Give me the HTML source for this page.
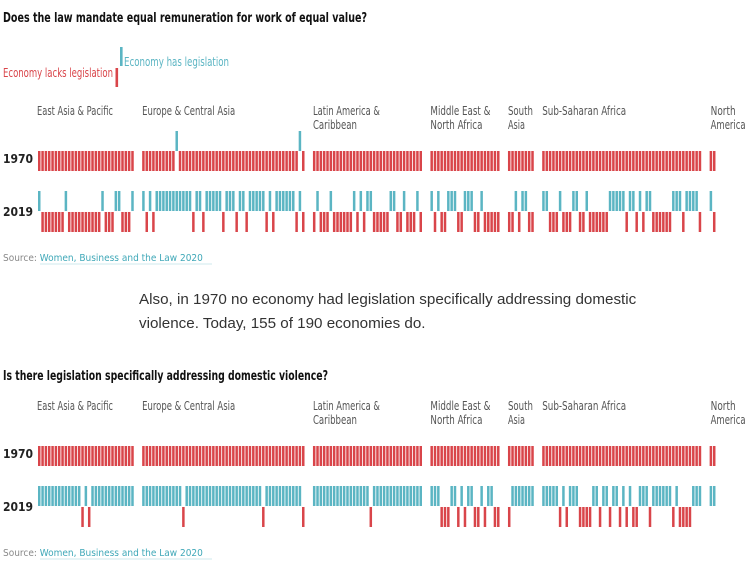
<!DOCTYPE html>
<html><head><meta charset="utf-8"><style>
html,body{margin:0;padding:0;background:#fff;width:750px;height:570px;overflow:hidden}
svg text{font-family:"Liberation Sans Narrow","DejaVu Sans Condensed","Liberation Sans",sans-serif}
.para{position:absolute;left:139px;top:288px;font-family:"Liberation Sans","DejaVu Sans",sans-serif;font-size:15.2px;line-height:24px;color:#333;width:530px}
</style></head><body>
<svg id="s" width="750" height="570" viewBox="0 0 750 570" style="position:absolute;left:0;top:0">
<text x="3" y="22" font-size="13" font-weight="bold" fill="#111" textLength="364" lengthAdjust="spacingAndGlyphs">Does the law mandate equal remuneration for work of equal value?</text>
<rect x="120" y="47" width="2.6" height="19" fill="#5bb5c3"/>
<rect x="115.5" y="68" width="2.6" height="19" fill="#d9454a"/>
<text x="124" y="66" font-size="12" fill="#5bb5c3" textLength="105" lengthAdjust="spacingAndGlyphs">Economy has legislation</text>
<text x="3" y="77" font-size="12" fill="#d9454a" textLength="110" lengthAdjust="spacingAndGlyphs">Economy lacks legislation</text>
<text x="3" y="261" font-size="10" fill="#888">Source: <tspan fill="#3fa8b8">Women, Business and the Law 2020</tspan></text>
<line x1="40" y1="264" x2="212" y2="264" stroke="#cfe9ee" stroke-width="1"/>
<text x="3" y="380" font-size="13" font-weight="bold" fill="#111" textLength="325" lengthAdjust="spacingAndGlyphs">Is there legislation specifically addressing domestic violence?</text>
<text x="3" y="556" font-size="10" fill="#888">Source: <tspan fill="#3fa8b8">Women, Business and the Law 2020</tspan></text>
<line x1="40" y1="559" x2="212" y2="559" stroke="#cfe9ee" stroke-width="1"/>
<g id="c1"></g>
<g id="c2"></g>
</svg>
<div class="para">Also, in 1970 no economy had legislation specifically addressing domestic<br>violence. Today, 155 of 190 economies do.</div>
<script>
const regions = ["East Asia & Pacific","Europe & Central Asia","Latin America & Caribbean","Middle East & North Africa","South Asia","Sub-Saharan Africa","North America"];
const regionCounts = [29,49,33,21,8,48,2];
// indices (within region) of economies WITH legislation
const pay1970Has = [[],[10,47],[],[],[],[],[]];
const pay2019Has = [[0,8,19,23,24,28],[0,2,4,5,6,7,8,9,10,11,12,13,14,16,17,19,20,21,22,23,25,26,27,29,30,32,33,34,35,36,38,40,41,42,43,44,45,47],[1,5,12,14,16,17,23,24,27,31],[0,2,5,6,7,10,11,12,15],[2,4,5],[0,1,5,9,10,13,20,21,22,23,24,26,27,29,31,32,39,40,41,43,44,45,46],[0]];
const dv1970Has = [[],[],[],[],[],[],[]];
// indices (within region) of economies LACKING legislation in 2019
const dv2019Lacks = [[13,15],[12,36,48],[17],[3,4,5,8,10,13,14,16,19,20],[0],[5,7,11,12,13,14,17,20,23,25,27,28,32,39,41,42,43,44],[]];

const NS="http://www.w3.org/2000/svg";
const RED="#d9454a", TEAL="#5bb5c3";
const x0=38, pitch=3.33, gap=7.6, bw=2.5;
function regionStart(r){let x=x0;for(let i=0;i<r;i++)x+=regionCounts[i]*pitch+gap;return x;}
function xPos(r,i){return regionStart(r)+i*pitch;}
function mk(tag,attrs,parent){const e=document.createElementNS(NS,tag);for(const k in attrs)e.setAttribute(k,attrs[k]);parent.appendChild(e);return e;}
const labelDx=[-1,0,0,0,0,0,1];
const labelLines=[["East Asia & Pacific"],["Europe & Central Asia"],["Latin America &","Caribbean"],["Middle East &","North Africa"],["South","Asia"],["Sub-Saharan Africa"],["North","America"]];
const labelWidths=[[76],[93],[67,44],[60,52],[25,17],[84],[25,35]];
function drawChart(g, top, has1970, isHas2019){
  for(let r=0;r<regions.length;r++){
    labelLines[r].forEach((ln,j)=>{
      const t=mk("text",{x:regionStart(r)+labelDx[r],y:top+j*14,"font-size":"12.5",fill:"#555",textLength:labelWidths[r][j],lengthAdjust:"spacingAndGlyphs"},g);
      
      
      t.textContent=ln;
    });
  }
  const y1970=top+36, y2019=top+76;
  const l1=mk("text",{x:3,y:y1970+12,"font-size":"12","font-weight":"bold",fill:"#222"},g);
  
  
  l1.textContent="1970";
  const l2=mk("text",{x:3,y:y2019+25,"font-size":"12","font-weight":"bold",fill:"#222"},g);
  
  
  l2.textContent="2019";
  for(let r=0;r<regions.length;r++){
    for(let i=0;i<regionCounts[r];i++){
      const x=xPos(r,i);
      const h70=has1970[r].includes(i);
      const b=mk("rect",{x:x,y:h70?y1970-20:y1970,width:bw,height:20,fill:h70?TEAL:RED},g);
      
      
      const h19=isHas2019(r,i);
      const c=mk("rect",{x:x,y:h19?y2019:y2019+21,width:bw,height:20,fill:h19?TEAL:RED},g);
      
      
    }
  }
}
drawChart(document.getElementById("c1"),115,pay1970Has,(r,i)=>pay2019Has[r].includes(i));
drawChart(document.getElementById("c2"),410,dv1970Has,(r,i)=>!dv2019Lacks[r].includes(i));
</script>
</body></html>
